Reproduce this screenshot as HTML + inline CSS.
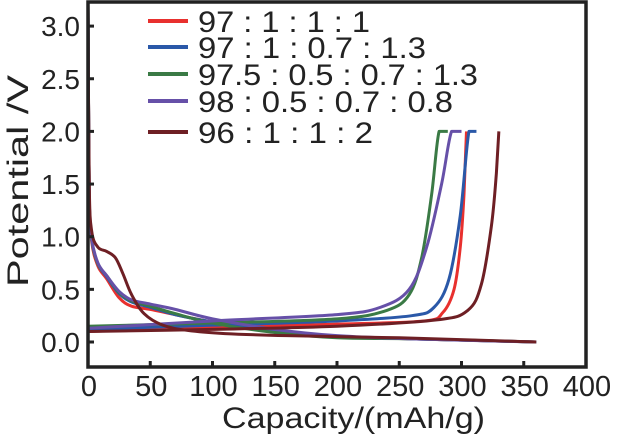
<!DOCTYPE html>
<html><head><meta charset="utf-8"><style>
body{margin:0;background:#fff;width:617px;height:443px;overflow:hidden}
text{font-family:"Liberation Sans",sans-serif;fill:#222}
</style></head><body>
<svg width="617" height="443" id="chart">
<g id="plot"></g>
</svg>
<script>
const xTicks=[0,50,100,150,200,250,300,350,400];
const yTicks=[0.0,0.5,1.0,1.5,2.0,2.5,3.0];
const seriesNames=["97 : 1 : 1 : 1","97 : 1 : 0.7 : 1.3","97.5 : 0.5 : 0.7 : 1.3","98 : 0.5 : 0.7 : 0.8","96 : 1 : 1 : 2"];
const seriesColors=["#e8302e","#2a58a8","#3a7a45","#6650a8","#6e1f24"];
const discharge=[
[[0,3.2],[1,1.4],[3,0.95],[8,0.72],[15,0.6],[25,0.42],[35,0.34],[50,0.31],[70,0.26],[100,0.19],[150,0.1],[200,0.05],[260,0.03],[360,0.0]],
[[0,3.2],[1,1.4],[3,0.97],[8,0.74],[15,0.62],[25,0.46],[35,0.38],[50,0.33],[70,0.26],[100,0.19],[150,0.1],[200,0.05],[260,0.03],[360,0.0]],
[[0,3.2],[1,1.4],[3,0.97],[8,0.74],[15,0.63],[25,0.47],[35,0.39],[50,0.34],[70,0.27],[100,0.18],[150,0.09],[200,0.04],[260,0.03],[360,0.0]],
[[0,3.2],[1,1.4],[3,0.98],[8,0.75],[15,0.63],[25,0.48],[35,0.4],[50,0.36],[70,0.31],[100,0.22],[150,0.12],[200,0.06],[260,0.03],[360,0.0]],
[[0,3.2],[1,1.5],[3,1.05],[8,0.9],[15,0.86],[22,0.8],[28,0.65],[35,0.45],[45,0.27],[60,0.16],[80,0.11],[110,0.08],[160,0.06],[250,0.04],[360,0.0]]
];
const charge=[
[[0,0.1],[100,0.14],[200,0.17],[270,0.2],[285,0.28],[294,0.5],[299,0.9],[302,1.4],[304,2.0]],
[[0,0.12],[100,0.16],[200,0.2],[260,0.25],[278,0.33],[290,0.6],[299,1.2],[306,2.0],[312,2.0]],
[[0,0.15],[100,0.18],[200,0.22],[240,0.3],[258,0.45],[268,0.8],[276,1.4],[282,2.0],[289,2.0]],
[[0,0.13],[100,0.2],[200,0.26],[235,0.33],[258,0.5],[272,0.9],[284,1.5],[292,2.0],[300,2.0]],
[[0,0.1],[100,0.12],[200,0.15],[280,0.21],[305,0.3],[316,0.55],[324,1.1],[328,1.6],[330,2.0]]
];
const X0=88,X1=586,Y0=342,YPU=105.3;
const xs=v=>X0+v*(X1-X0)/400;
const ys=v=>Y0-v*YPU;
const NS="http://www.w3.org/2000/svg";
const svg=document.getElementById('plot');
function mk(t,a,txt){const e=document.createElementNS(NS,t);for(const k in a)e.setAttribute(k,a[k]);if(txt!==undefined)e.textContent=txt;svg.appendChild(e);return e;}
function path(pts){let d="M"+xs(pts[0][0])+","+ys(pts[0][1]);
 for(let i=0;i<pts.length-1;i++){const p1=pts[i],p2=pts[i+1];
 if(p1[1]===p2[1]||i===pts.length-2&&p2[1]>=2){d+=" L"+xs(p2[0])+","+ys(p2[1]);continue;}
 const p0=pts[Math.max(i-1,0)],p3=pts[Math.min(i+2,pts.length-1)];
 let c1=[xs(p1[0])+(xs(p2[0])-xs(p0[0]))/6,ys(p1[1])+(ys(p2[1])-ys(p0[1]))/6];
 let c2=[xs(p2[0])-(xs(p3[0])-xs(p1[0]))/6,ys(p2[1])-(ys(p3[1])-ys(p1[1]))/6];
 c2[1]=Math.max(c2[1],Math.min(ys(p1[1]),ys(p2[1])));c1[1]=Math.max(c1[1],Math.min(ys(p1[1]),ys(p2[1])));
 d+=" C"+c1+" "+c2+" "+xs(p2[0])+","+ys(p2[1]);}
 return d;}
for(let i=0;i<5;i++){
 const a=mk('path',{d:path(discharge[i]),fill:'none',stroke:seriesColors[i],'stroke-width':3,'stroke-linejoin':'round'});
 
 
 const b=mk('path',{d:path(charge[i]),fill:'none',stroke:seriesColors[i],'stroke-width':3,'stroke-linejoin':'round'});
 
 
}
const frame=mk('rect',{x:X0,y:2,width:X1-X0,height:365,fill:'none',stroke:'#222','stroke-width':3.5});


xTicks.forEach(v=>{
 const t=mk('line',{x1:xs(v),x2:xs(v),y1:367,y2:361,stroke:'#222','stroke-width':3});
 
 
 const l=mk('text',{x:xs(v)+1,y:396,'text-anchor':'middle','font-size':29},String(v));
 
 
});
yTicks.forEach(v=>{
 const t=mk('line',{x1:X0,x2:X0+6,y1:ys(v),y2:ys(v),stroke:'#222','stroke-width':3});
 
 
 const l=mk('text',{x:80,y:ys(v)+10,'text-anchor':'end','font-size':28},v.toFixed(1));
 
 
});
const xt=mk('text',{x:222,y:428,'font-size':30,textLength:263,lengthAdjust:'spacingAndGlyphs'},"Capacity/(mAh/g)");


const yt=mk('text',{x:0,y:0,'font-size':30,textLength:212,lengthAdjust:'spacingAndGlyphs',transform:'translate(28,287) rotate(-90)'},"Potential /V");


const legY=[21,47,74,101,132];
const legW=[172,228,280,255,175];
for(let i=0;i<5;i++){
 const l=mk('line',{x1:148,x2:188,y1:legY[i],y2:legY[i],stroke:seriesColors[i],'stroke-width':4});
 
 
 const t=mk('text',{x:198,y:legY[i]+11,'font-size':30,textLength:legW[i],lengthAdjust:'spacingAndGlyphs'},seriesNames[i]);
 t.setAttribute('xml:space','preserve');
 
 
}
</script>
</body></html>
